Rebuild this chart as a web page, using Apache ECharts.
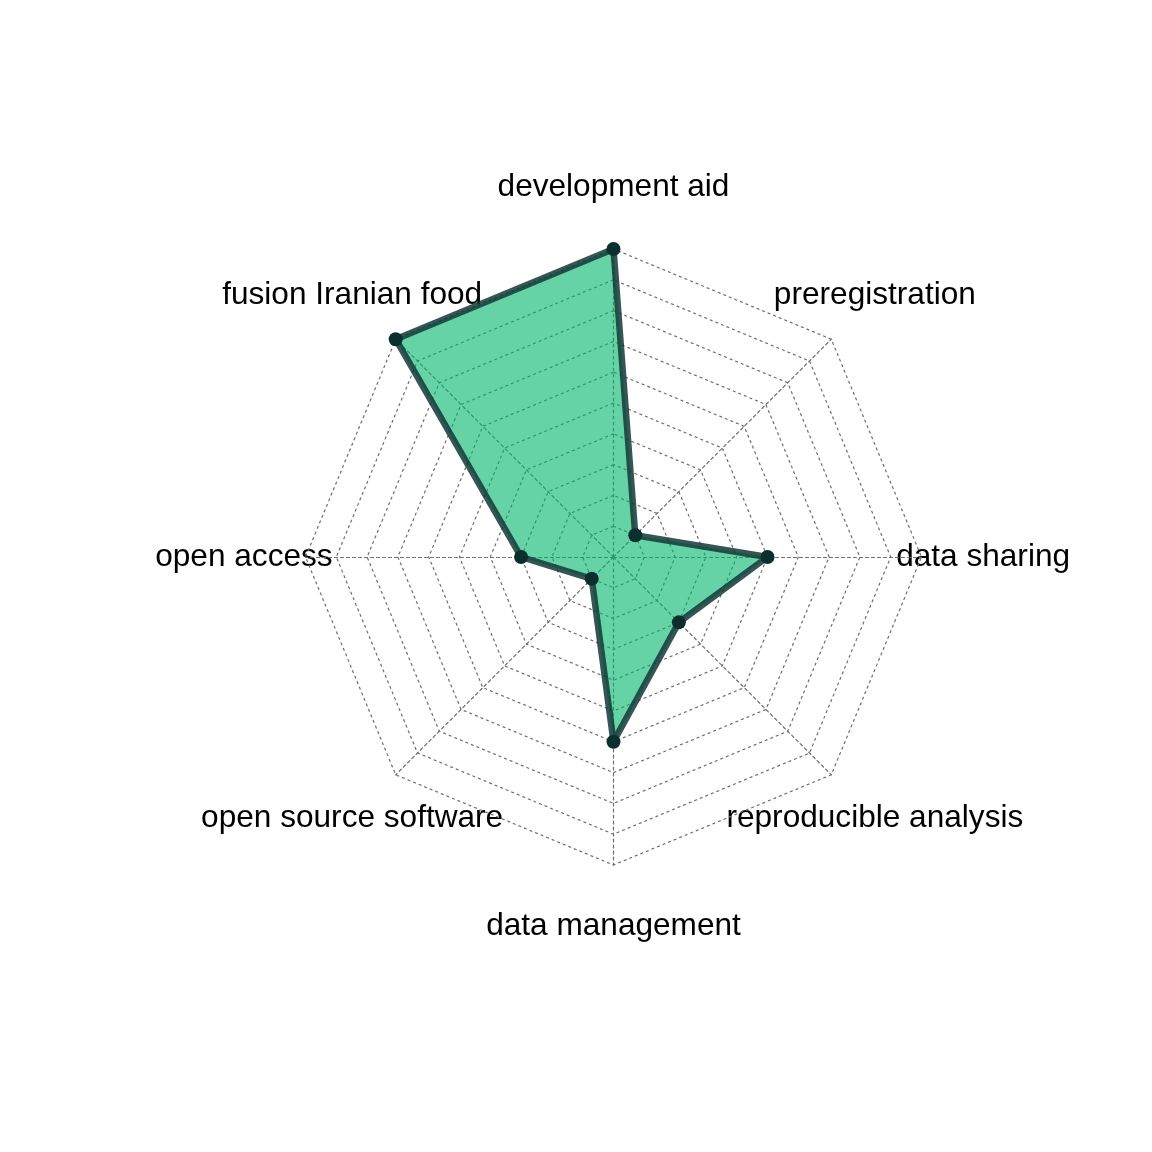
<!DOCTYPE html>
<html>
<head>
<meta charset="utf-8">
<script src="https://cdn.jsdelivr.net/npm/echarts@6/dist/echarts.min.js"></script>
<style>
  html, body { margin: 0; padding: 0; background: #ffffff; }
  #main { width: 1152px; height: 1152px; }
</style>
</head>
<body>
<div id="main"></div>
<script>
// Categories in clockwise order starting from the top
const categories = ['development aid', 'preregistration', 'data sharing', 'reproducible analysis',
                    'data management', 'open source software', 'open access', 'fusion Iranian food'];
const values = [10, 1, 5, 3, 6, 1, 3, 10];
const axisMax = 10;
const levels = 10;

// layout
const cx = 613.5, cy = 557, R = 308, labelFactor = 1.2;

// ECharts radar places indicators counter-clockwise; reorder so they read clockwise
const order = [0].concat(categories.map((_, i) => i).slice(1).reverse());
const indicators = order.map(i => ({ name: categories[i], max: axisMax, min: 0 }));
const seriesValues = order.map(i => values[i]);

const n = categories.length;
const labelGraphics = categories.map((name, i) => {
  const theta = Math.PI / 2 - i * 2 * Math.PI / n;
  return {
    type: 'text',
    z: -10,
    x: cx + labelFactor * R * Math.cos(theta),
    y: cy - labelFactor * R * Math.sin(theta),
    style: {
      text: name,
      fontFamily: 'Liberation Sans, Arial, Helvetica, sans-serif',
      fontSize: 31.6,
      fill: '#000000',
      align: 'center',
      verticalAlign: 'middle'
    }
  };
});

const chart = echarts.init(document.getElementById('main'), null, { renderer: 'canvas' });
chart.setOption({
  backgroundColor: '#ffffff',
  animation: false,
  graphic: labelGraphics,
  radar: {
    center: [cx, cy],
    radius: R,
    shape: 'polygon',
    splitNumber: levels,
    startAngle: 90,
    indicator: indicators,
    axisName: { show: false },
    axisLine: { lineStyle: { color: '#6e6e6e', width: 1.2, type: [3, 3] } },
    splitLine: { lineStyle: { color: '#6e6e6e', width: 1.2, type: [3, 3] } },
    splitArea: { show: false },
    axisTick: { show: false },
    axisLabel: { show: false }
  },
  series: [
    {
      // filled area (drawn first)
      type: 'radar',
      z: 2,
      symbol: 'none',
      silent: true,
      data: [{
        value: seriesValues,
        lineStyle: { width: 0, opacity: 0 },
        areaStyle: { color: 'rgba(0,182,106,0.6)', opacity: 1 }
      }]
    },
    {
      // outline and points (drawn on top of the fill)
      type: 'radar',
      z: 3,
      symbol: 'circle',
      symbolSize: 14,
      data: [{
        value: seriesValues,
        itemStyle: { color: '#0c2f2e' },
        lineStyle: { color: 'rgba(18,56,54,0.85)', width: 6.5 },
        areaStyle: { opacity: 0 }
      }]
    }
  ]
});
</script>
</body>
</html>
